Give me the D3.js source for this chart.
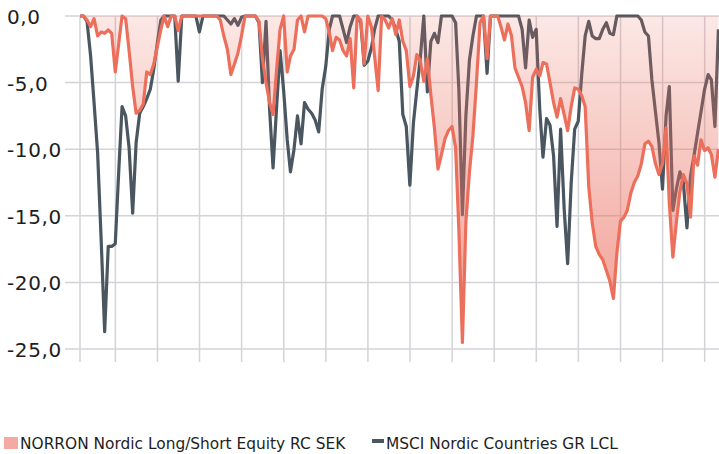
<!DOCTYPE html>
<html>
<head>
<meta charset="utf-8">
<script src="https://cdn.jsdelivr.net/npm/d3@7"></script>
<style>
  body { margin: 0; background: #fff; }
  text { font-family: "DejaVu Sans", Verdana, sans-serif; fill: #1e1e1e; }
</style>
</head>
<body>
<div id="chart"></div>
<script>
// 1: DATA (monthly drawdown, %)
const startYear = 2008, startMonth = 2; // first point = end of Feb 2008

const norron = [
  0, 0, -0.3, -0.8, -0.2, -1.5, -1.2, -1.3, -1.05, -1.3,
  -4.2, -2.0, 0, -0.2, -2.6, -5.3, -7.3, -7.1, -6.6, -4.2,
  -4.4, -3.6, -2.3, -1.0, 0, -0.8, 0, 0, -1.1, 0,
  0, 0, 0, 0, 0, 0, 0, 0, 0, 0,
  -0.3, -1.5, -2.5, -4.4, -3.6, -2.8, -1.5, 0, 0, 0,
  0, -0.4, -3.2, -5.0, -6.5, -7.4, -4.0, -1.0, 0, -4.2,
  -3.0, -2.5, -0.3, 0, -1.2, 0, 0, 0, 0, 0,
  -0.2, -1.2, -2.6, -1.6, -1.8, -2.6, -3.0, -1.7, -5.4, 0,
  -0.3, -3.6, 0, -0.8, -3.0, -5.6, 0, -0.3, -0.9, -0.2,
  -1.4, -0.3, -1.9, -2.6, -5.3, -4.5, -2.9, -3.4, -4.9, -3.2,
  -5.9, -8.4, -11.5, -10.4, -9.2, -8.6, -8.3, -9.9, -16.0, -24.5,
  -15.5, -11.7, -9.0, -5.0, -0.5, 0, -3.2, 0, 0, 0,
  -0.8, -1.8, -0.6, -1.5, -3.9, -4.6, -5.3, -6.5, -8.6, -4.6,
  -4.0, -4.5, -3.5, -3.6, -5.0, -6.5, -7.6, -6.2, -7.4, -8.6,
  -6.8, -5.4, -5.5, -6.0, -6.8, -12.8, -15.5, -17.3, -17.9, -18.3,
  -19.1, -19.9, -21.2, -17.8, -15.4, -15.1, -14.6, -13.3, -12.5, -12.0,
  -11.1, -9.6, -9.4, -9.8, -11.1, -11.9, -11.1, -8.4, -14.0, -18.1,
  -15.5, -13.2, -11.9, -12.6, -15.1, -10.5, -11.2, -9.3, -10.1, -9.9,
  -10.4, -12.1, -10.0
];

const msci = [
  0, 0, -0.4, -3.0, -6.5, -10.3, -16.9, -23.7, -17.3, -17.3,
  -17.1, -11.5, -6.8, -7.5, -9.9, -14.8, -9.5, -7.3, -6.8, -6.2,
  -5.5, -4.0, -2.0, -0.3, 0, 0, 0, 0, -4.9, 0,
  0, 0, 0, 0, -1.2, 0, 0, 0, 0, 0,
  0, 0, -0.3, -0.6, -0.2, -0.7, -0.1, 0, 0, 0,
  0, -0.5, -5.0, -0.4, -7.0, -11.4, -6.8, -2.6, -5.6, -9.3,
  -11.7, -10.0, -7.5, -9.6, -6.5, -7.0, -7.3, -7.8, -8.7, -5.5,
  -3.8, -1.0, 0, 0, 0, -1.0, -2.0, -0.8, 0, 0,
  -0.5, -3.7, -3.4, -2.4, -1.0, 0, 0, 0, 0, -0.3,
  -1.0, -1.9, -7.4, -8.3, -12.7, -8.0, -5.6, -3.1, 0, -5.7,
  -1.9, -1.3, -2.0, 0, 0, 0, 0, -0.5, -5.5, -14.9,
  -7.5, -3.3, -1.5, 0, 0, 0, -4.3, 0, 0, 0,
  0, 0, 0, 0, 0, 0, -1.0, -3.9, -0.3, -1.6,
  -1.0, -7.0, -10.6, -7.7, -8.2, -10.5, -15.8, -8.5, -14.5, -18.6,
  -12.5, -8.5, -7.9, -4.3, -1.5, -0.4, -1.5, -1.7, -1.7, -1.0,
  -0.5, -1.3, -1.4, 0, 0, 0, 0, 0, 0, 0,
  -0.3, -1.2, -1.5, -4.8, -7.2, -9.5, -13.0, -7.5, -5.3, -14.6,
  -13.0, -11.7, -12.5, -15.9, -12.0, -10.5, -8.8, -7.2, -5.5, -4.4,
  -4.8, -8.3, -1.0
];

const yTicks = [0, -5, -10, -15, -20, -25];
const seriesNames = ["NORRON Nordic Long/Short Equity RC SEK", "MSCI Nordic Countries GR LCL"];

// month-end dates for each point
const dates = norron.map((d, i) => new Date(startYear, startMonth + i, 0));

const width = 719, height = 454;
const plot = { left: 80, right: 718.4, top: 16, bottom: 349 };

const svg = d3.select("#chart").append("svg")
    .attr("width", width)
    .attr("height", height);

// 2: SCALES
const x = d3.scaleTime()
    .domain([dates[0], dates[dates.length - 1]])
    .range([plot.left, plot.right]);

const y = d3.scaleLinear()
    .domain([-25, 0])
    .range([plot.bottom, plot.top]);

const locale = d3.formatLocale({ decimal: ",", thousands: " ", grouping: [3], currency: ["", ""], minus: "-" });
const fmt = locale.format(".1f");

// gradient for the fund's drawdown area
const grad = svg.append("defs").append("linearGradient")
    .attr("id", "fillGrad")
    .attr("gradientUnits", "userSpaceOnUse")
    .attr("x1", 0).attr("x2", 0)
    .attr("y1", y(0)).attr("y2", y(-25));
grad.append("stop").attr("offset", "0%").attr("stop-color", "#ea6f5f").attr("stop-opacity", 0.16);
grad.append("stop").attr("offset", "100%").attr("stop-color", "#ea6f5f").attr("stop-opacity", 0.7);

// 3: GRID
const gridColor = "#d3d3d8";
svg.append("g").selectAll("line")
    .data(yTicks)
    .join("line")
    .attr("x1", 65).attr("x2", width)
    .attr("y1", d => y(d)).attr("y2", d => y(d))
    .attr("stroke", gridColor).attr("stroke-width", 1.5);

const yearTicks = [dates[0]].concat(x.ticks(d3.timeYear.every(1)));
svg.append("g").selectAll("line")
    .data(yearTicks)
    .join("line")
    .attr("x1", d => x(d)).attr("x2", d => x(d))
    .attr("y1", y(0)).attr("y2", 362)
    .attr("stroke", gridColor).attr("stroke-width", 1.5);

// y labels (left aligned)
svg.append("g").selectAll("text")
    .data(yTicks)
    .join("text")
    .attr("x", 7)
    .attr("y", d => y(d))
    .attr("dy", "0.4em")
    .style("font-size", "20px")
    .style("letter-spacing", "0.6px")
    .text(d => fmt(d));

// 4: MARKS
const line = d3.line()
    .x((d, i) => x(dates[i]))
    .y(d => y(d));

const area = d3.area()
    .x((d, i) => x(dates[i]))
    .y0(y(0))
    .y1(d => y(d));

svg.append("path")
    .datum(msci)
    .attr("d", line)
    .attr("fill", "none")
    .attr("stroke", "#4a5660")
    .attr("stroke-width", 3.2)
    .attr("stroke-linejoin", "round");

svg.append("path")
    .datum(norron)
    .attr("d", area)
    .attr("fill", "url(#fillGrad)");

svg.append("path")
    .datum(norron)
    .attr("d", line)
    .attr("fill", "none")
    .attr("stroke", "#ec6f5c")
    .attr("stroke-width", 3.2)
    .attr("stroke-linejoin", "round");

// 5: LEGEND
const legend = svg.append("g");
legend.append("rect")
    .attr("x", 4).attr("y", 437).attr("width", 14).attr("height", 12)
    .attr("fill", "#f4aaa2");
legend.append("text")
    .attr("x", 20).attr("y", 444).attr("dy", "0.35em")
    .style("font-size", "15.4px")
    .text(seriesNames[0]);
legend.append("rect")
    .attr("x", 372).attr("y", 439).attr("width", 12).attr("height", 4)
    .attr("fill", "#4a5660");
legend.append("text")
    .attr("x", 386).attr("y", 444).attr("dy", "0.35em")
    .style("font-size", "15.4px")
    .text(seriesNames[1]);
</script>
</body>
</html>
